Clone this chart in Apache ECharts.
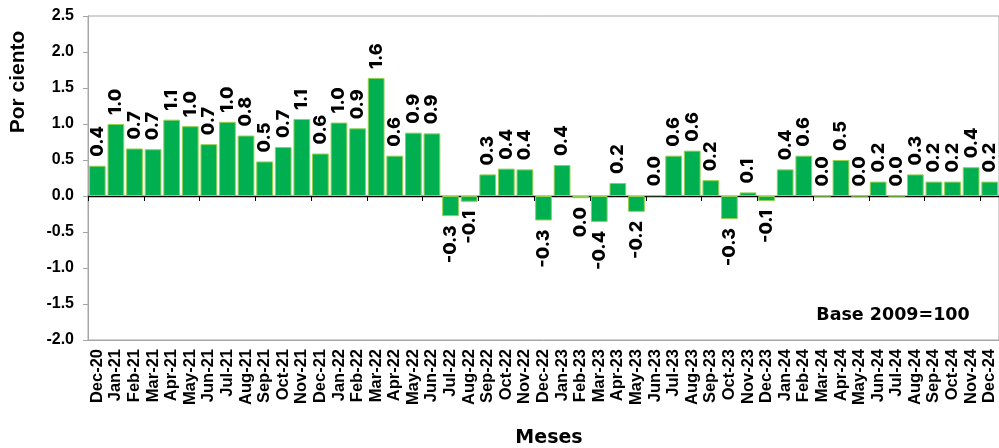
<!DOCTYPE html>
<html>
<head>
<meta charset="utf-8">
<script src="https://cdn.jsdelivr.net/npm/echarts@6/dist/echarts.min.js"></script>
<style>
html,body{margin:0;padding:0;background:#fff;}
#chart{width:999px;height:448px;}
</style>
</head>
<body>
<div id="chart"></div>
<script>
var categories = ["Dec-20","Jan-21","Feb-21","Mar-21","Apr-21","May-21","Jun-21","Jul-21","Aug-21","Sep-21","Oct-21","Nov-21","Dec-21","Jan-22","Feb-22","Mar-22","Apr-22","May-22","Jun-22","Jul-22","Aug-22","Sep-22","Oct-22","Nov-22","Dec-22","Jan-23","Feb-23","Mar-23","Apr-23","May-23","Jun-23","Jul-23","Aug-23","Sep-23","Oct-23","Nov-23","Dec-23","Jan-24","Feb-24","Mar-24","Apr-24","May-24","Jun-24","Jul-24","Aug-24","Sep-24","Oct-24","Nov-24","Dec-24"];
var values = [0.42,1.00,0.66,0.65,1.06,0.97,0.72,1.03,0.84,0.48,0.68,1.07,0.59,1.02,0.94,1.64,0.56,0.88,0.87,-0.28,-0.08,0.30,0.38,0.37,-0.34,0.43,-0.03,-0.36,0.18,-0.22,0.01,0.56,0.63,0.22,-0.32,0.05,-0.07,0.37,0.56,0.00,0.50,0.00,0.20,0.00,0.30,0.20,0.20,0.40,0.20];
var yTicks = {min: -2.0, max: 2.5, interval: 0.5};

function fmt(v){ var s = (Math.round(v*10)/10).toFixed(1); return s === "-0.0" ? "0.0" : s; }

var barData = values.map(function(v){
  return {
    value: v,
    label: v < 0 ? {position: 'bottom', align: 'right'} : {position: 'top', align: 'left'}
  };
});

var chart = echarts.init(document.getElementById('chart'));
chart.setOption({
  animation: false,
  grid: {left: 88, top: 16, width: 914, bottom: 108, show: true, borderColor: '#a6a6a6', borderWidth: 1, backgroundColor: 'transparent'},
  xAxis: [
    {
      type: 'category', data: categories, position: 'bottom',
      axisLine: {onZero: false, lineStyle: {color: '#a6a6a6'}},
      axisTick: {show: false},
      axisLabel: {rotate: 90, interval: 0, color: '#000', fontFamily: 'Liberation Sans', fontWeight: 'bold', fontSize: 16.5, margin: 9}
    },
    {
      type: 'category', data: categories, position: 'top',
      axisLine: {onZero: true, lineStyle: {color: '#000', width: 1.3}},
      axisTick: {show: true, inside: true, length: 5, lineStyle: {color: '#000'}},
      axisLabel: {show: false}
    }
  ],
  yAxis: {
    type: 'value', min: yTicks.min, max: yTicks.max, interval: yTicks.interval,
    axisLine: {show: true, lineStyle: {color: '#a6a6a6'}},
    axisTick: {show: true, length: 5, lineStyle: {color: '#a6a6a6'}},
    splitLine: {show: false},
    axisLabel: {formatter: function(v){ return v.toFixed(1); }, color: '#000', fontFamily: 'Liberation Sans', fontWeight: 'bold', fontSize: 16, margin: 14}
  },
  graphic: [
    {type: 'text', x: 18, y: 82, rotation: Math.PI/2, style: {text: 'Por ciento', fontFamily: 'Liberation Sans', fontWeight: 'bold', fontSize: 21, fill: '#000', textAlign: 'center', textVerticalAlign: 'middle'}},
    {type: 'text', x: 893, y: 315, style: {text: 'Base 2009=100', fontFamily: 'DejaVu Sans', fontWeight: 'bold', fontSize: 17.5, fill: '#000', textAlign: 'center', textVerticalAlign: 'middle'}},
    {type: 'text', x: 549, y: 438, style: {text: 'Meses', fontFamily: 'DejaVu Sans', fontWeight: 'bold', fontSize: 19, fill: '#000', textAlign: 'center', textVerticalAlign: 'middle'}}
  ],
  series: [{
    type: 'bar', xAxisIndex: 0, data: barData, barCategoryGap: '10%',
    itemStyle: {color: '#00B050', borderColor: '#92D050', borderWidth: 1},
    label: {show: true, rotate: 90, verticalAlign: 'middle', distance: 9, color: '#000', fontFamily: 'Inter', fontWeight: 800, fontSize: 18,
      formatter: function(p){ return fmt(p.value); }}
  }]
});
</script>
</body>
</html>
